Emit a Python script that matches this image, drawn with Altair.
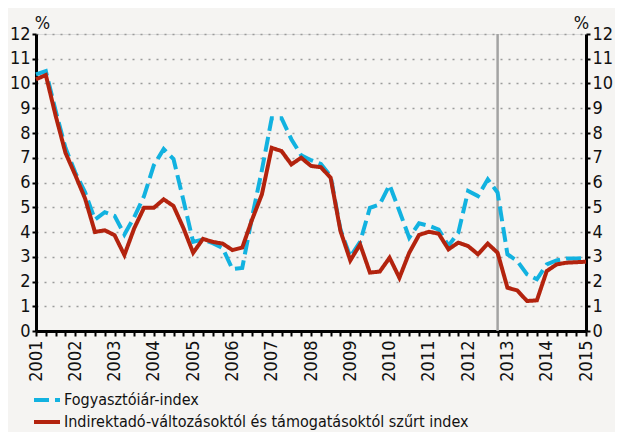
import altair as alt
import pandas as pd

START_YEAR = 2001
N_QUARTERS = 57
quarters = [START_YEAR + i * 0.25 for i in range(N_QUARTERS)]

name_cpi = "Fogyasztóiár-index"
name_core = "Indirektadó-változásoktól és támogatásoktól szűrt index"

cpi = [10.37, 10.5, 8.9, 7.4, 6.4, 5.6, 4.5, 4.8, 4.65, 3.9,
       4.6, 5.45, 6.7, 7.35, 6.95, 5.3, 3.6, 3.7, 3.55, 3.35,
       2.5, 2.55, 4.6, 6.5, 8.6, 8.6, 7.75, 7.1, 6.9, 6.75,
       6.25, 4.1, 3.0, 3.6, 4.98, 5.12, 5.9, 4.85, 3.77, 4.35,
       4.25, 4.1, 3.45, 3.97, 5.66, 5.45, 6.13, 5.59, 3.1, 2.83,
       2.29, 2.09, 2.69, 2.85, 2.93, 2.93, 2.95]

core = [10.17, 10.34, 8.7, 7.2, 6.3, 5.35, 4.0, 4.07, 3.87, 3.07,
        4.15, 4.98, 4.98, 5.32, 5.05, 4.17, 3.16, 3.72, 3.6, 3.53,
        3.27, 3.37, 4.5, 5.52, 7.4, 7.27, 6.73, 7.0, 6.67, 6.62,
        6.19, 4.04, 2.85, 3.5, 2.36, 2.4, 2.96, 2.15, 3.16, 3.88,
        4.01, 3.93, 3.3, 3.57, 3.43, 3.1, 3.53, 3.16, 1.75, 1.64,
        1.21, 1.24, 2.42, 2.69, 2.76, 2.78, 2.8]

y_ticks = list(range(0, 13))
forecast_start = [2012.75]

BLUE = "#12b2e0"
RED = "#b3230e"
FONT = "Liberation Sans Narrow, DejaVu Sans Condensed, Roboto Condensed, Arial Narrow, sans-serif"

df = pd.DataFrame({
    "t": quarters + quarters,
    "v": cpi + core,
    "s": [name_cpi] * N_QUARTERS + [name_core] * N_QUARTERS,
})
vline = pd.DataFrame({"x": forecast_start, "y0": [0], "y1": [12]})

xscale = alt.Scale(domain=[2001, 2015], nice=False, zero=False)
yscale = alt.Scale(domain=[0, 12], nice=False)


def x_axis():
    return alt.Axis(
        values=quarters,
        labelExpr="datum.value % 1 === 0 ? format(datum.value, 'd') : ''",
        labelAngle=-90, labelOverlap=False, labelBound=False, labelFlush=False,
        grid=False, title=None,
        domainColor="black", domainWidth=3, tickColor="black", tickWidth=2,
        tickSize=5, labelPadding=4, labelFontSize=18, labelColor="#111",
    )


left_axis = alt.Axis(
    values=y_ticks, grid=True, gridDash=[2, 6], gridColor="#9b9b9b", gridWidth=1.6,
    domainColor="black", domainWidth=3, tickColor="black", tickWidth=2, tickSize=4,
    labelPadding=2, labelFontSize=18, labelColor="#111",
    title="%", titleAngle=0, titleX=6, titleY=-6, titleAlign="center",
    titleBaseline="alphabetic", titleFontWeight="normal", titleFontSize=18, titleColor="#111",
)
right_axis = alt.Axis(
    orient="right", values=y_ticks, grid=False,
    domainColor="black", domainWidth=3, tickColor="black", tickWidth=2, tickSize=4,
    labelPadding=2, labelFontSize=18, labelColor="#111",
    title="%", titleAngle=0, titleX=-5, titleY=-6, titleAlign="center",
    titleBaseline="alphabetic", titleFontWeight="normal", titleFontSize=18, titleColor="#111",
)

legend = alt.Legend(
    title=None, orient="none", legendX=-1, legendY=354, direction="vertical",
    symbolType="M-1.3,0H1.3", symbolStrokeWidth=4, symbolSize=400,
    symbolFillColor="transparent",
    labelFontSize=16, labelColor="#111", labelOffset=5, labelLimit=0,
    rowPadding=2, padding=0,
)

lines = alt.Chart(df).mark_line(strokeWidth=4).encode(
    x=alt.X("t:Q", scale=xscale, axis=x_axis()),
    y=alt.Y("v:Q", scale=yscale, axis=left_axis),
    color=alt.Color("s:N", scale=alt.Scale(domain=[name_cpi, name_core], range=[BLUE, RED]),
                    legend=legend, sort=[name_cpi, name_core]),
    strokeDash=alt.StrokeDash("s:N", scale=alt.Scale(domain=[name_cpi, name_core],
                                                     range=[[15, 6], [1, 0]]),
                              legend=legend, sort=[name_cpi, name_core]),
    order=alt.Order("t:Q"),
)

rule = alt.Chart(vline).mark_rule(color="#a3a3a3", strokeWidth=2.5).encode(
    x=alt.X("x:Q", scale=xscale, axis=x_axis()),
    y=alt.Y("y0:Q", scale=yscale, axis=right_axis),
    y2="y1:Q",
)

chart = alt.layer(rule, lines).resolve_axis(y="independent").properties(
    width=550, height=297,
    autosize=alt.AutoSizeParams(type="none"),
    padding={"left": 28, "top": 26, "right": 29, "bottom": 101},
    background="#f5f4f2",
).configure_view(stroke=None).configure(font=FONT)

chart.save("out.html", embed_options={"renderer": "svg", "actions": False})
